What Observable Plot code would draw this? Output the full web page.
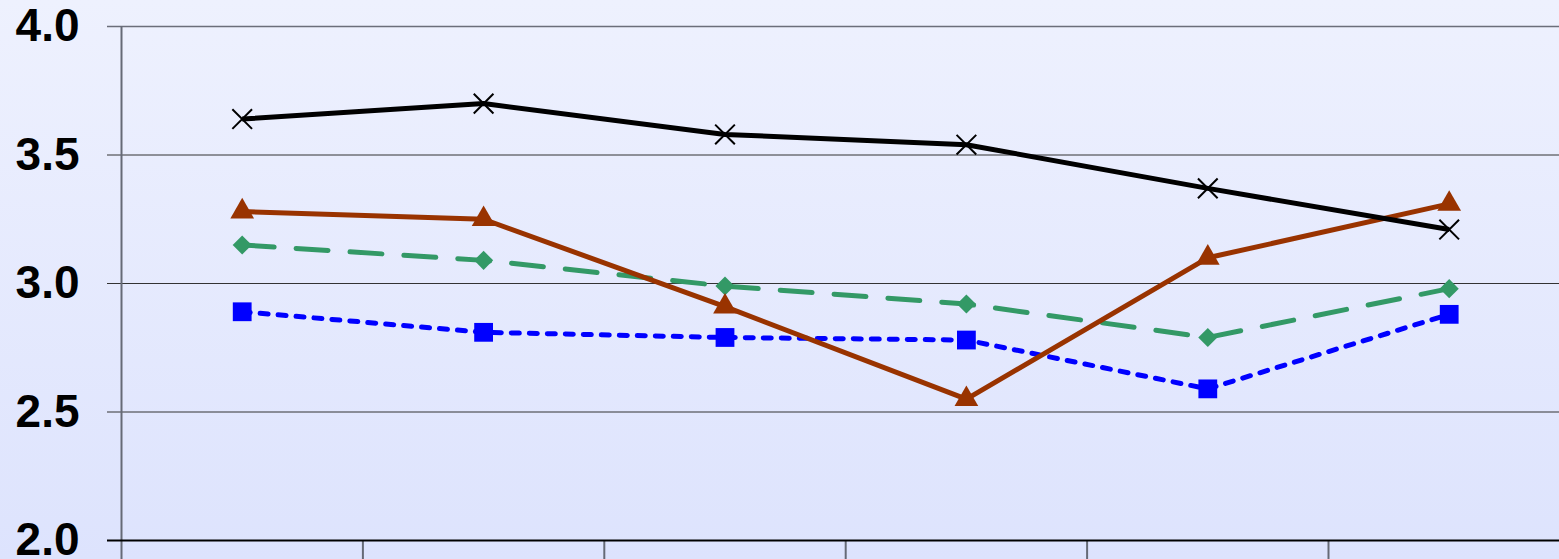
<!DOCTYPE html>
<html>
<head>
<meta charset="utf-8">
<script src="https://cdn.jsdelivr.net/npm/d3@7"></script>
<script src="https://cdn.jsdelivr.net/npm/@observablehq/plot@0.6"></script>
<style>
  html, body { margin: 0; padding: 0; overflow: hidden; }
  body {
    width: 1559px; height: 559px;
    background: linear-gradient(to bottom, #eef1fe 0%, #dde3fd 100%);
  }
  svg { background: transparent !important; display: block; }
</style>
</head>
<body>
<div id="chart"></div>
<script>
// Six periods along the category axis
const categories = ["P1", "P2", "P3", "P4", "P5", "P6"];

// Mean scores per series
const seriesA = [3.64, 3.70, 3.58, 3.54, 3.37, 3.21]; // black, crosses
const seriesB = [3.28, 3.25, 2.91, 2.55, 3.10, 3.31]; // brown, triangles
const seriesC = [3.15, 3.09, 2.99, 2.92, 2.79, 2.98]; // green, diamonds
const seriesD = [2.89, 2.81, 2.79, 2.78, 2.59, 2.88]; // blue, squares

const yTicks = [2.0, 2.5, 3.0, 3.5, 4.0];
const innerTicks = [2.5, 3.0, 3.5];
const separators = [1, 2, 3, 4, 5];

const rows = (vals) => vals.map((v, i) => ({cat: categories[i], value: v}));
const xPos = (d) => categories.indexOf(d.cat) + 0.5;

// Rotated-square marker (equal width and height)
const diamond = d3.symbolDiamond2;

const lineStyles = [
  {data: rows(seriesC), stroke: "#339966", dash: "32,22", symbol: diamond, r: 8.6, fill: "#339966"},
  {data: rows(seriesD), stroke: "#0000ff", dash: "8,10", symbol: "square", r: 10.6, fill: "#0000ff"},
  {data: rows(seriesB), stroke: "#993300", dash: null, symbol: "triangle", r: 8.8, fill: "#993300"},
  {data: rows(seriesA), stroke: "#000000", dash: null, symbol: "times", r: 9, fill: null}
];

const marks = [
  // horizontal gridlines, extended left into short tick marks
  Plot.ruleY(innerTicks, {y: d => d, stroke: "#333", strokeWidth: 1, insetLeft: -14}),
  Plot.ruleY([4.0], {y: d => d, stroke: "#6b6e7a", strokeWidth: 1.5, insetLeft: -14}),
  // category separators below the base line
  Plot.axisX({ticks: separators, tickSize: 19, tickFormat: () => "", stroke: "#666a76", strokeWidth: 2, label: null}),
  // left value axis line
  Plot.ruleX([0], {x: d => d, y1: 4.0, y2: 2.0, insetBottom: -19, stroke: "#666a76", strokeWidth: 2}),
  // value tick labels
  Plot.axisY({ticks: yTicks, tickFormat: d3.format(".1f"), tickSize: 0, tickPadding: 42,
    fontSize: 46, fontWeight: "bold", fill: "#000", label: null}),
];

for (const s of lineStyles) {
  marks.push(Plot.line(s.data, {
    x: xPos, y: "value", stroke: s.stroke, strokeWidth: 5,
    strokeDasharray: s.dash, strokeLinecap: s.dash ? "round" : "butt", strokeLinejoin: "round",
    curve: "linear"
  }));
  if (s.symbol === "times") {
    marks.push(Plot.dot(s.data, {x: xPos, y: "value", symbol: "times", r: s.r, stroke: "#000", strokeWidth: 2}));
  } else {
    marks.push(Plot.dot(s.data, {x: xPos, y: "value", symbol: s.symbol, r: s.r, fill: s.fill, stroke: "none"}));
  }
}

// base line of the plot area
marks.push(Plot.ruleY([2.0], {y: d => d, stroke: "#000", strokeWidth: 2, insetLeft: -14}));

const chart = Plot.plot({
  width: 1559,
  height: 559,
  marginTop: 26,
  marginBottom: 19,
  marginLeft: 121,
  marginRight: 0,
  style: {fontFamily: "'Liberation Sans', Arial, sans-serif", background: "transparent", overflow: "visible"},
  x: {type: "linear", domain: [0, 6], range: [121, 1569.4], axis: null},
  y: {domain: [2.0, 4.0], range: [540, 26], axis: null},
  marks
});
document.getElementById("chart").append(chart);
</script>
</body>
</html>
